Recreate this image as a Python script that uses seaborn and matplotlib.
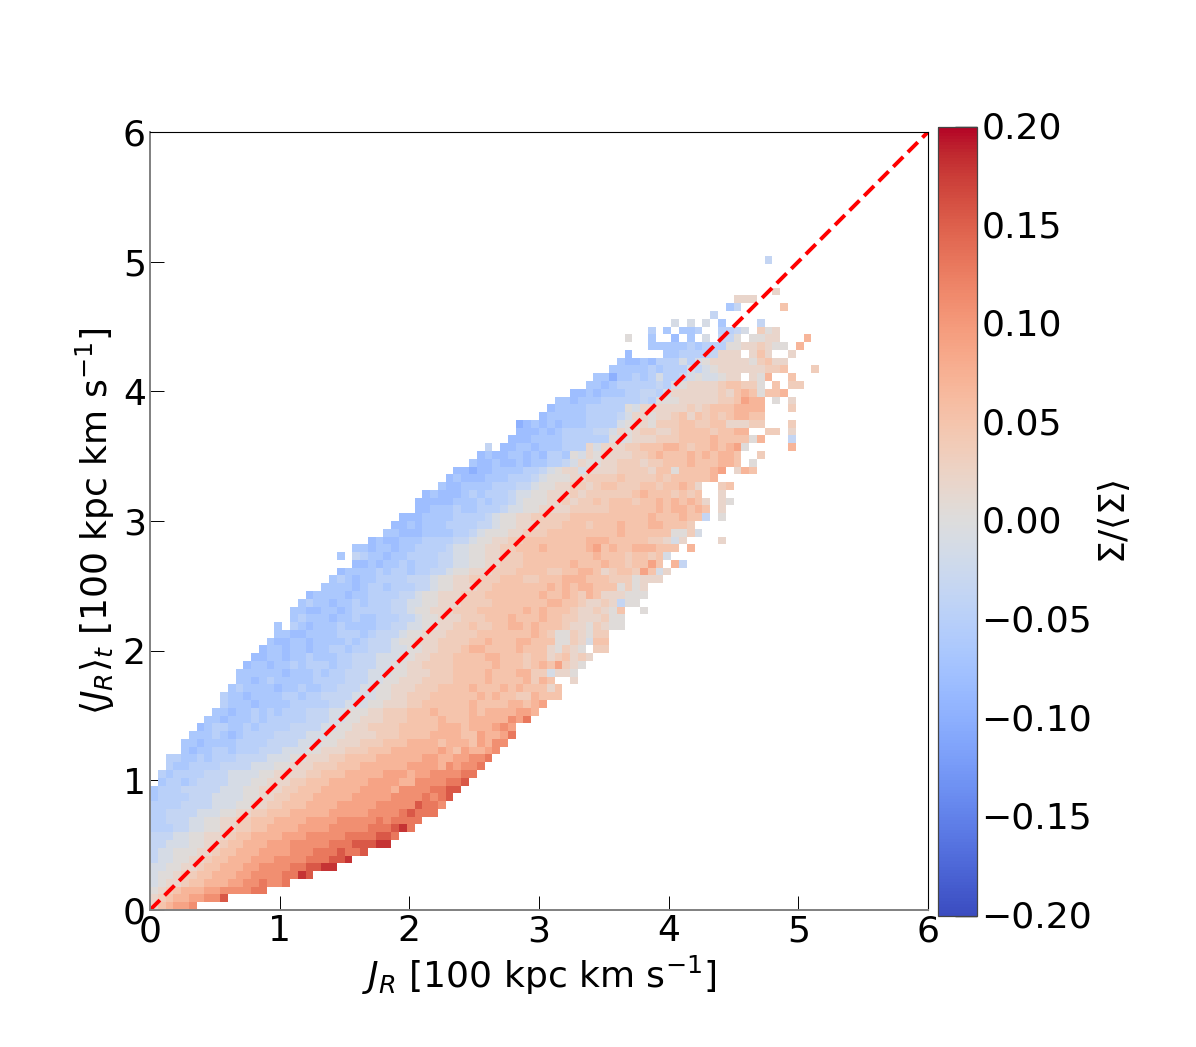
import matplotlib
matplotlib.use("Agg")
import numpy as np
import pandas as pd
import seaborn as sns
from matplotlib import pyplot as plt
from matplotlib.transforms import ScaledTranslation

sns.set_style("white")
plt.rcParams["mathtext.default"] = "it"
plt.rcParams["text.color"] = "black"
plt.rcParams["axes.labelcolor"] = "black"
plt.rcParams["xtick.labelcolor"] = "black"
plt.rcParams["ytick.labelcolor"] = "black"

BIN_WIDTH = 0.06
N_BINS = 100

# Sigma/<Sigma>, one letter per cell, "." = empty cell
LEVEL_CODES = "abcdefghijklmnopq"
LEVEL_VALUES = [-0.10, -0.08, -0.065, -0.05, -0.035, -0.012, 0.004, 0.02, 0.035,
                0.05, 0.07, 0.09, 0.11, 0.13, 0.155, 0.18, 0.20]

# first column of each row, from J_R,t = 0 upwards
row_start = [0, 0, 0, 0, 0, 0, 0, 0, 0, 0,
             0, 0, 0, 0, 0, 0, 1, 1, 2, 2,
             4, 4, 5, 6, 7, 8, 9, 9, 10, 11,
             11, 12, 13, 14, 15, 16, 16, 18, 18, 19,
             20, 22, 23, 24, 26, 24, 26, 28, 30, 31,
             32, 34, 34, 35, 37, 38, 39, 41, 42, 43,
             46, 47, 47, 50, 51, 52, 54, 56, 57, 59,
             60, 61, 64, 61, 64, 67, 72, 74, 75, 80,
             0, 0, 0, 79]

row_cells = [
    "hjkllm",
    "hijkkllmmo",
    "ghijkkkllmmmmnn",
    "fghhijjkkkllmmnmmn",
    "fgghiijjkkkllmmmmnnpo",
    "ffgghhijjkkkllmmmmnnoopp",
    "effgghhijjkkklllmmmmnnnoop",
    "effggghhijjkkkllllmmmnnnonno",
    "eefffgghhijjkkklllmmmmmnnnooopp",
    "eeeffgghhhijjkkkklllmmmmmnnnnoon",
    "dddeeffgghhiijjkkkkllllmmmmmnnnopn",
    "ddeeeffgghhiijjjkkkkllllmmmmmnmnnnn",
    "ddeeeefffgghhiijjjkkkkklllllmmmmnonnn",
    "ddddeeeefffgghhiijjjkkkklllllmmmmmonnm",
    "cddddeeeffffgghhiijjjkkkkklllllmmmmnmno",
    "cdddeeeeefffgghhhiijjjkkkkkllllkmmmmnnoo",
    "cddcdeeeefffgghhhiijjjkkkkkllllkkmmmmnno",
    "dcddddeeeffffgghhhhiijjjkkkkklllkllmmmmnn",
    "dccddddeeeefffgghhhiiijjjkkkkkkllllkmlmmn",
    "ddccdcdddeeeefffgghhhiijjjjkkkkkkllkkllmmn",
    "cbccddcdddeeefffgghhhiiijjjkkkkkklkjlkklm",
    "ccbccccddddeeeefffgghhhiiijjjkkkkjkkkjlkmm",
    "cccdcbcddddeeeefffgghhhhiiijjjjkkkkjjlkkln",
    "bcddccdcddddeeeeffgghhiiiijjjjjkkkjkkklml",
    "ccbcccdcdddddeeeffgghhhiiijjjjkjjjkkkkkmln",
    "ccbccdcdcdddeeeffggghhiiijjjkjjjjkjkkkkllk",
    "dcccbccccdddddeefffgghhhiijjjjjjkjjjjkkjkl",
    "dccbccccddcddeeeefffgghhiiijjjjjjkjkjjiikjjj",
    "cdccccbccdccddeeeffgghhhiiijjjjkjjjkjkjjjhj",
    "ccbcdcccccddddeeeffgghhhiiiijjjjkjjjjkikj..h",
    "ccccccbcccdcddeeefffgghhhiiijjjjkjjjkkiifhhg",
    "bccbccdcdddcddeeeffgghhiiiijjjjjkjjjijkjlihg",
    "bbccbccdcccddeeefffgghhiiijjjjkkjjjijjhijhih",
    "bccbccbccddcddeeeffgghhiiijkkjjjjkjjjhgihg.ii",
    "cbbccbccccdcdeeefgghhhiiiijjkjjjkkjjjggihfjj",
    "ccbbccccdddcdeeefgghhhiiiijjjjjjjkjiggihgii",
    "c.dcbcccdccccddeeffgghhiijiijjkkjkjjjihhgihgg",
    "cdcccbccdccdddeefgghhhiiijjjkjjjkjjiihhhigg",
    "ccbbccbcdddddeefgghhhiiijjjjjjkjkjjjihhihgj..g",
    "cdccbccdcdddeeffgghhhiiiijjjjjjjkkjjihhihegg",
    "bccccbccddddeefgghhhiiijjjjjjjkjjkjikjhhhggg",
    "ccccbcddcdddeefgghhhiijjjjjjjkjkjkkjjjgigh",
    "cdcbccddddeeefgghhiiiijjjiijjjkkkjjjiiighhh",
    "bccccdcddcddeefgghhhiiijjjjiijjkkjhijjiljfh",
    "bbcbccdcdddeeffgghhiiijjjjjjkjjjkjjijjlj.ke",
    "c.edccbccddddeeffgghhiiijjjjjjjjjkjjjijjijf",
    "ccbccbccddddeffgghhiijjjkjjjjjkljkjjkkkjjj.k",
    "bcbbcccddddeefgghhiijjjjjjjjkkkjjjjjiihfh....h",
    "ccbbbccccddefggghhiiijjjjjjjjjkjjjjjjggif",
    "bbcbcccddddeefgghhhiiijjjijjjkjjjkkjjji",
    "bbbccccddddefgghhiiiiijjjjjjjjjjkjjjkjje.g",
    "bbcccdccdddeffgghhhhiiiiijjjjjjkjkkjkj.h",
    "bbbbbcccdcddefggghhihiijijjjijjkjkjkjh.hg",
    "bcbbbcdcdddeffgghhhihiiiiiijkjjjijij..h",
    "cbbccccdddeefgghhiihijjiiijjijjkjh..ij",
    "bcbbbcccdddefggghhiiiijiiiijijjjjjk",
    "bbabbccccddefghhfhhhhiiiihjjgjjjjkl.hkj",
    "cbbcbbcbccddefhgghhiiihiijjjkjjjkkj.g",
    "bcbbccbcbddcgfhghhhhiijkjjjkjkjkkj..i",
    "e.bbccbcccdddhfhhhiijjjkkjijjkjklg.....k",
    "bbbccccddddddgfghhhiiijjjjkjjjjgk...e",
    "bbbcbcddddeefhghiihhijjjjijjkk..ii.h",
    "abcbcbcccddddfgghgiiijjiijjhhhii...i",
    "bcccccddddefhhghhijhjijijkkjj",
    "bccccdddddgfhhhhhhihijjjkkkk...i",
    "ccbcccdddddedggghhhhhiijlkk.g.h",
    "bbcbcccddeedfhhhhhhihjkjgjjk",
    "ccbcdddddedfghhhhijjiig.j.ii",
    "ccaccdcdfddefgffghh.hgk..j",
    "cccccdcdddfefghhhhhhiij...i",
    "cbbcbdddfdfghhhhhgijhh",
    "b....ccddddehhh.hjh..h",
    "cccccdcdddgghhihgg.k",
    "g..c..b.c.f.eeg.gghh...k",
    "d.c.ccd..ddef.igh",
    "f.f.f.c....e",
    "e",
    "ce.....j",
    "hhh",
    "h",
    "",
    "",
    "",
    "e",
]

x_ticks = [0, 1, 2, 3, 4, 5, 6]
cbar_ticks = [-0.20, -0.15, -0.10, -0.05, 0.00, 0.05, 0.10, 0.15, 0.20]

level_of = dict(zip(LEVEL_CODES, LEVEL_VALUES))
grid = np.full((N_BINS, N_BINS), np.nan)
for r, (start, cells) in enumerate(zip(row_start, row_cells)):
    for i, c in enumerate(cells):
        if c != ".":
            grid[r, start + i] = level_of[c]
df = pd.DataFrame(grid)

fig = plt.figure(figsize=(11.96, 10.47), dpi=100)
ax = fig.add_axes([150 / 1196, 1 - 910 / 1047, 778 / 1196, 778 / 1047])
cax = fig.add_axes([938 / 1196, 1 - 916 / 1047, 39 / 1196, 789 / 1047])

sns.heatmap(df, ax=ax, cbar_ax=cax, cmap="coolwarm", vmin=-0.2, vmax=0.2,
            xticklabels=False, yticklabels=False, square=False)
ax.set_xlim(0, N_BINS)
ax.set_ylim(0, N_BINS)
ax.plot([0, N_BINS], [0, N_BINS], color="red", ls="--", lw=2.8, dashes=(3.6, 1.7),
        clip_on=True, scalex=False, scaley=False)

tick_pos = [t / BIN_WIDTH for t in x_ticks]
ax.set_xticks(tick_pos)
ax.set_xticklabels(x_ticks)
ax.set_yticks(tick_pos)
ax.set_yticklabels(x_ticks)
ax.tick_params(direction="in", length=10, width=0.7, color="black", labelsize=26,
               pad=3, bottom=True, left=True)
for s in ax.spines.values():
    s.set_visible(True)
    s.set_linewidth(0.8)
    s.set_color("black")
ax.spines["left"].set_color("#808080")
ax.spines["left"].set_linewidth(1.4)
ax.spines["bottom"].set_color("#808080")
ax.spines["bottom"].set_linewidth(1.4)

ax.set_xlabel(r"$J_R$ [100 kpc km s$^{-1}$]", fontsize=26, labelpad=4)
ax.set_ylabel(r"$\langle J_R\rangle_t$ [100 kpc km s$^{-1}$]", fontsize=26, labelpad=4)

cbar = ax.collections[0].colorbar
cbar.set_ticks(cbar_ticks)
cbar.set_ticklabels([f"{t:.2f}".replace("-", "\u2212") for t in cbar_ticks])
cax.tick_params(direction="in", length=16, width=1.0, color="black", labelsize=26, pad=3,
                right=True)
# labels sit a touch above their ticks in the reference
for lab in cax.get_yticklabels():
    lab.set_transform(lab.get_transform() + ScaledTranslation(0, 1.5 / 72, fig.dpi_scale_trans))
cbar.outline.set_visible(True)
cbar.outline.set_linewidth(0.9)
cbar.outline.set_edgecolor("#444444")
cbar.set_label(r"$\Sigma/\langle\Sigma\rangle$", fontsize=26, labelpad=2)

fig.savefig("out.png", dpi=100)
